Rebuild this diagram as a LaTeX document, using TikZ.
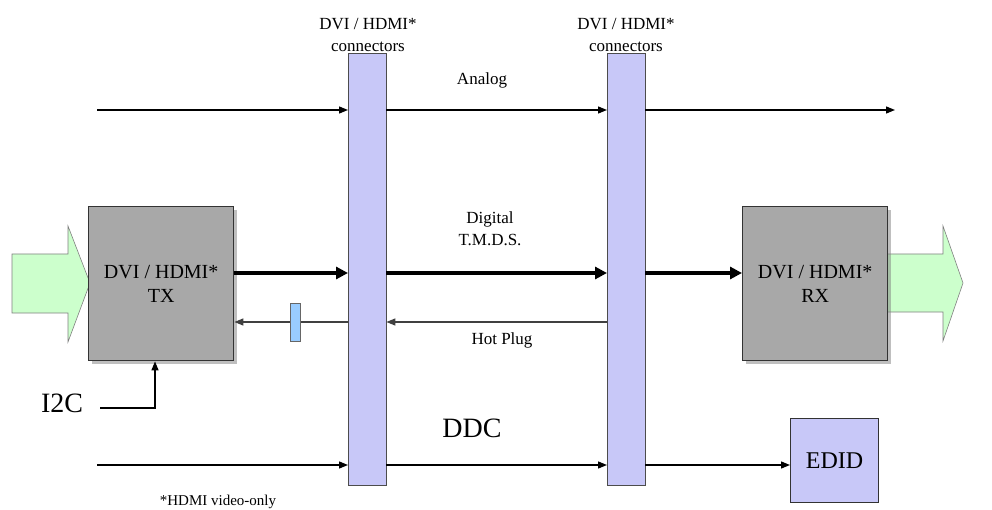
\documentclass[tikz,border=0pt]{standalone}
\usepackage{fontspec}
\setmainfont{Liberation Serif}
\usetikzlibrary{arrows.meta,shadows}
\definecolor{lav}{HTML}{C8C8F8}
\definecolor{grn}{HTML}{CCFFCC}
\definecolor{boxgray}{HTML}{A8A8A8}
\definecolor{plugblue}{HTML}{99CCFF}
\tikzset{
  bar/.style={draw=black!70, fill=lav, minimum width=38pt, minimum height=432pt, inner sep=0pt, anchor=north west},
  unit/.style={draw=black!80, line width=1.4pt, fill=boxgray, minimum width=145pt, minimum height=154pt, inner sep=0pt, anchor=north west, align=center, font=\fontsize{20}{24}\selectfont, drop shadow={shadow xshift=3pt, shadow yshift=-3pt, opacity=0.5}},
  lbl/.style={align=center, font=\fontsize{17}{22}\selectfont},
  thin/.style={draw=black, line width=1.3pt, -{Triangle[length=9pt,width=7pt]}},
  thickarr/.style={draw=black, line width=4pt, -{Triangle[length=12pt,width=12pt]}},
  fat/.style={draw=black!50, fill=grn, line width=0.6pt},
}
\begin{document}
\begin{tikzpicture}[x=1pt,y=-1pt]
\useasboundingbox (0,0) rectangle (992,510);
% green arrows
\draw[fat] (12,254) -- (68,254) -- (68,226) -- (90,283) -- (68,342) -- (68,313) -- (12,313) -- cycle;
\draw[fat] (880,254) -- (943,254) -- (943,226) -- (963,283) -- (943,341) -- (943,312) -- (880,312) -- cycle;
% bars
\node[bar] (bar1) at (348,53) {};
\node[bar] (bar2) at (607,53) {};
% units
\node[unit] (tx) at (88,206) {DVI / HDMI*\\TX};
\node[unit] (rx) at (742,206) {DVI / HDMI*\\RX};
\node[draw=black!80, line width=1pt, fill=lav, minimum width=88pt, minimum height=84pt, inner sep=0pt, anchor=north west, font=\fontsize{24}{28}\selectfont] (edid) at (790,418) {EDID};
% labels
\node[lbl] (c1) at (368,35) {DVI / HDMI*\\connectors};
\node[lbl] (c2) at (626,35) {DVI / HDMI*\\connectors};
\node[lbl] (analog) at (482,80) {Analog};
\node[lbl] (digital) at (490,229) {Digital\\T.M.D.S.};
\node[lbl] (hot) at (502,340) {Hot Plug};
\node[font=\fontsize{28}{32}\selectfont] (ddc) at (472,428) {DDC};
\node[font=\fontsize{28}{32}\selectfont] (i2c) at (62,403) {I2C};
\node[font=\fontsize{15}{18}\selectfont] (note) at (218,502) {*HDMI video-only};
% coordinates
\coordinate (aS) at (97,110);
\coordinate (aE) at (895,110);
\coordinate (dS) at (97,465);
\coordinate (i2cS) at (100,408);
% analog
\draw[thin] (aS) -- (aS -| bar1.west);
\draw[thin] (aS -| bar1.east) -- (aS -| bar2.west);
\draw[thin] (aS -| bar2.east) -- (aE);
% digital
\draw[thickarr] (tx.east |- 0,273) -- (bar1.west |- 0,273);
\draw[thickarr] (bar1.east |- 0,273) -- (bar2.west |- 0,273);
\draw[thickarr] (bar2.east |- 0,273) -- (rx.west |- 0,273);
% hot plug
\draw[thin, draw=black!75] (bar2.west |- 0,322) -- (bar1.east |- 0,322);
\draw[thin, draw=black!75] (bar1.west |- 0,322) -- (tx.east |- 0,322);
\node[draw=black!60, fill=plugblue, minimum width=10pt, minimum height=38pt, inner sep=0pt] (plug) at (295,322) {};
% DDC
\draw[thin] (dS) -- (dS -| bar1.west);
\draw[thin] (dS -| bar1.east) -- (dS -| bar2.west);
\draw[thin] (dS -| bar2.east) -- (dS -| edid.west);
% I2C
\draw[thin] (i2cS) -- (155,408) -- (tx.south -| 155,0);
\end{tikzpicture}
\end{document}
